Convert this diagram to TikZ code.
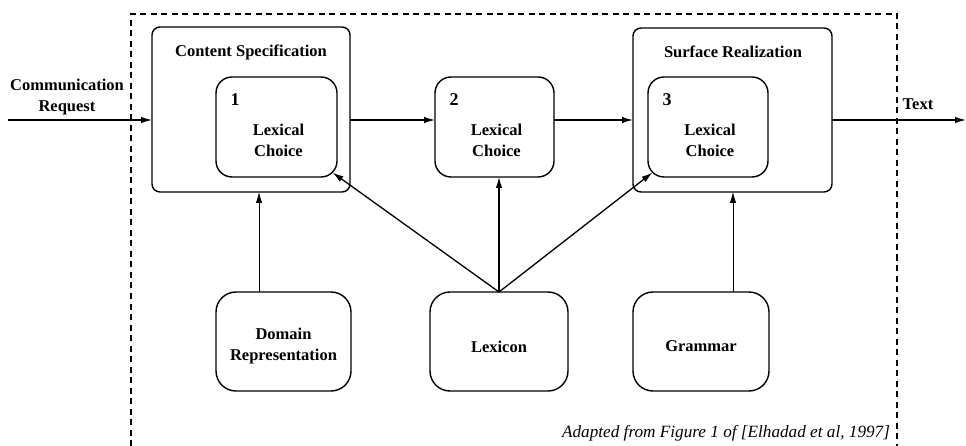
\documentclass[tikz,border=0pt]{standalone}
\usepackage{fontspec}
\setmainfont{Liberation Serif}
\usetikzlibrary{arrows.meta,calc}
\begin{document}
\begin{tikzpicture}[x=1pt,y=-1pt,
  every node/.style={inner sep=0pt,outer sep=0pt},
  lbl/.style={font=\fontsize{16.5}{21}\selectfont\bfseries,align=center},
  outerbox/.style={draw,line width=1.4pt,rounded corners=8pt},
  innerbox/.style={draw,line width=1.4pt,rounded corners=16pt},
  bottombox/.style={draw,line width=1.4pt,rounded corners=20pt},
  arr/.style={line width=1.3pt,-{Latex[length=11pt,width=6.5pt]}},
  thinarr/.style={line width=0.8pt,-{Latex[length=11pt,width=6.5pt]}},
  frame/.style={line width=1.2pt,dash pattern=on 6pt off 4.5pt}]
\useasboundingbox (0,0) rectangle (966,446);
% dashed frame
\draw[frame] (131,446) -- (131,14) -- (897,14) -- (897,446);
% boxes
\node[outerbox,minimum width=198pt,minimum height=165pt] (CS) at (251,109.5) {};
\node[outerbox,minimum width=199pt,minimum height=164pt] (SR) at (732.5,110) {};
\node[innerbox,minimum width=121pt,minimum height=100pt] (L1) at (276.5,127) {};
\node[innerbox,minimum width=119pt,minimum height=100pt] (L2) at (494.5,127) {};
\node[innerbox,minimum width=120pt,minimum height=100pt] (L3) at (708,127) {};
\node[bottombox,minimum width=135pt,minimum height=99pt] (DR) at (283.5,341.5) {};
\node[bottombox,minimum width=138pt,minimum height=99pt] (LX) at (499,341.5) {};
\node[bottombox,minimum width=136pt,minimum height=99pt] (GR) at (701,341.5) {};
% labels
\node[lbl] (csl) at (251,52) {Content Specification};
\node[lbl] (srl) at (733,52) {Surface Realization};
\node[lbl,font=\fontsize{18}{21}\selectfont\bfseries] (n1) at ($(L1.north west)+(19,23)$) {1};
\node[lbl,font=\fontsize{18}{21}\selectfont\bfseries] (n2) at ($(L2.north west)+(19,23)$) {2};
\node[lbl,font=\fontsize{18}{21}\selectfont\bfseries] (n3) at ($(L3.north west)+(19,23)$) {3};
\node[lbl] (t1) at ($(L1.center)+(2,13)$) {Lexical\\Choice};
\node[lbl] (t2) at ($(L2.center)+(2,13)$) {Lexical\\Choice};
\node[lbl] (t3) at ($(L3.center)+(2,13)$) {Lexical\\Choice};
\node[lbl] (tdr) at ($(DR.center)+(0,5)$) {Domain\\Representation};
\node[lbl] (tlx) at ($(LX.center)+(0,5)$) {Lexicon};
\node[lbl] (tgr) at ($(GR.center)+(0,5)$) {Grammar};
\node[lbl] (cr) at (67,97) {Communication\\Request};
\node[lbl] (tx) at (918,104) {Text};
\node[font=\fontsize{17.2}{20}\selectfont\itshape,anchor=east] (cap) at (890,433) {Adapted from Figure 1 of [Elhadad et al, 1997]};
% coordinates
\coordinate (inS) at (8,120);
\coordinate (outE) at (966,120);
\coordinate (dx) at (259,0);
\coordinate (gx) at (733,0);
\coordinate (c1) at ($(L1.south east)+(-4.4,-4.4)$);
\coordinate (c3) at ($(L3.south west)+(4.4,-4.4)$);
% connectors
\draw[arr] (inS) -- (inS -| CS.west);
\draw[arr] (inS -| CS.east) -- (inS -| L2.west);
\draw[arr] (inS -| L2.east) -- (inS -| SR.west);
\draw[arr] (inS -| SR.east) -- (outE);
\draw[thinarr] (dx |- DR.north) -- (dx |- CS.south);
\draw[thinarr] (gx |- GR.north) -- (gx |- SR.south);
\draw[arr] (LX.north) -- (c1);
\draw[arr] (LX.north) -- (LX.north |- L2.south);
\draw[arr] (LX.north) -- (c3);
\end{tikzpicture}
\end{document}
